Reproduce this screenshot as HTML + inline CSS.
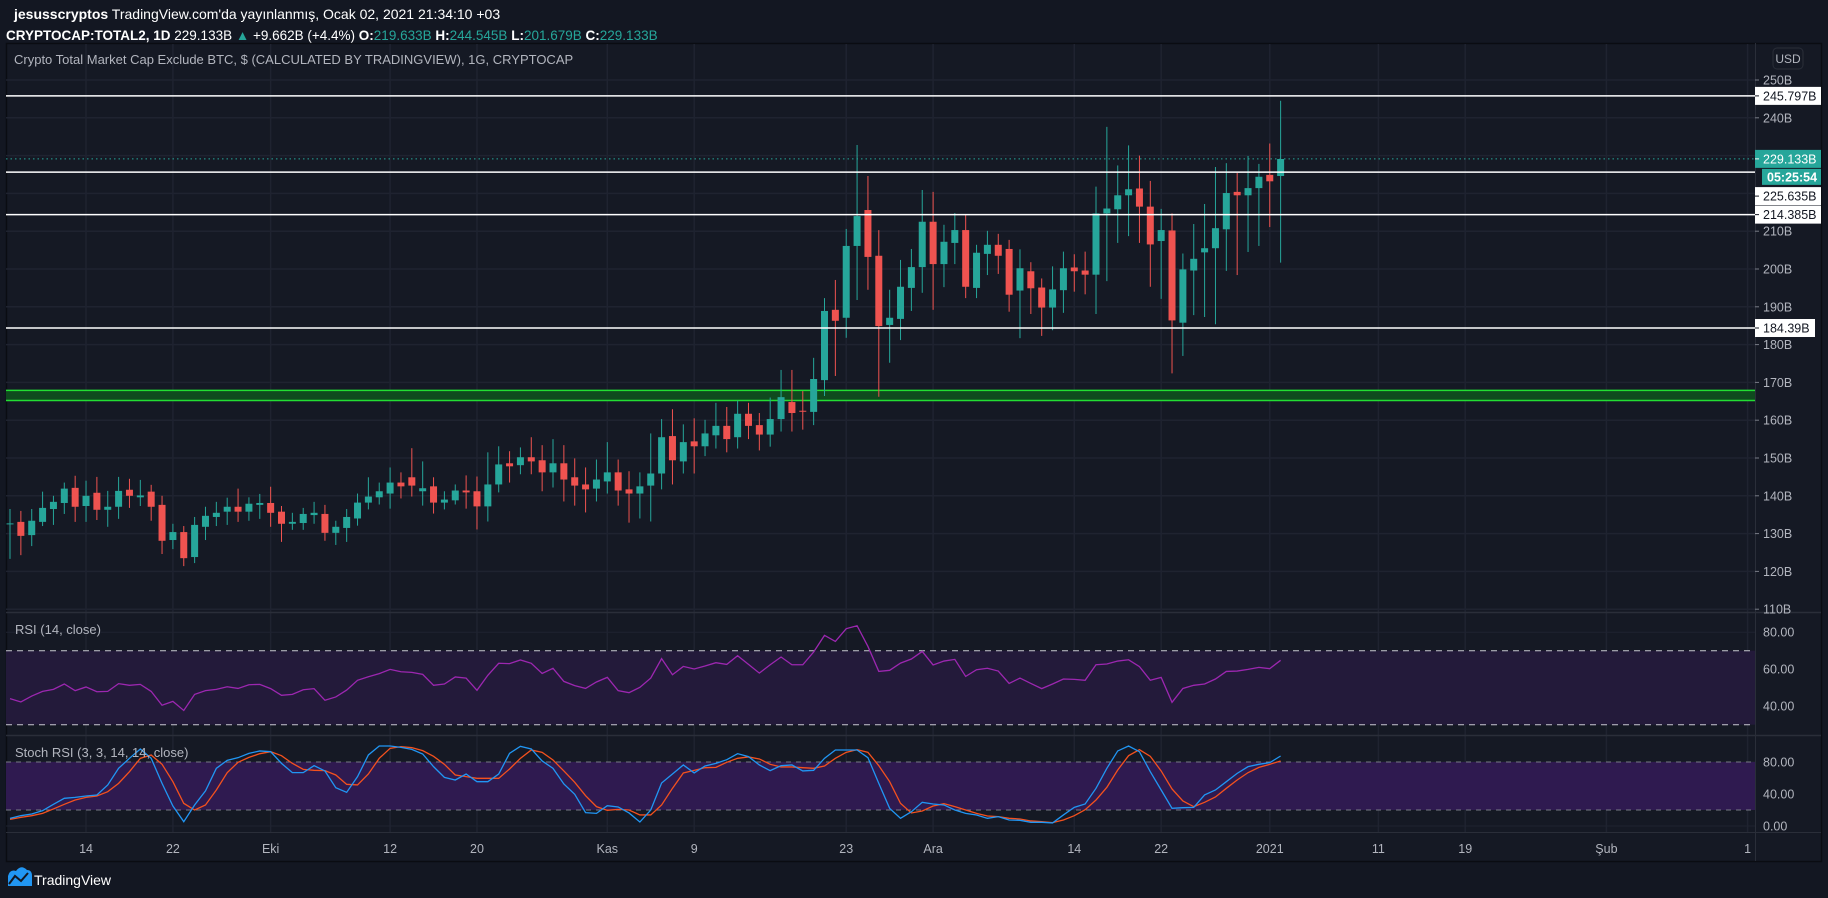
<!DOCTYPE html>
<html><head><meta charset="utf-8">
<style>
html,body{margin:0;padding:0;background:#131722;width:1828px;height:898px;overflow:hidden;font-family:"Liberation Sans","DejaVu Sans",sans-serif;}
svg{position:absolute;left:0;top:0}
</style></head>
<body>
<svg id="chart" width="1828" height="898" viewBox="0 0 1828 898" xmlns="http://www.w3.org/2000/svg">
  <rect x="0" y="0" width="1828" height="898" fill="#131722"/>
  <text x="14" y="19" font-size="14" fill="#ffffff"><tspan font-weight="bold">jesusscryptos</tspan> TradingView.com'da yayınlanmış, Ocak 02, 2021 21:34:10 +03</text>
  <text x="6" y="40" font-size="13.5" fill="#ffffff"><tspan font-weight="bold">CRYPTOCAP:TOTAL2, 1D</tspan> 229.133B <tspan fill="#26a69a">▲</tspan> +9.662B (+4.4%) <tspan font-weight="bold">O:</tspan><tspan fill="#26a69a">219.633B</tspan> <tspan font-weight="bold">H:</tspan><tspan fill="#26a69a">244.545B</tspan> <tspan font-weight="bold">L:</tspan><tspan fill="#26a69a">201.679B</tspan> <tspan font-weight="bold">C:</tspan><tspan fill="#26a69a">229.133B</tspan></text>
  <rect x="6.5" y="43.5" width="1815" height="818" fill="#151924" stroke="#0a0c12" stroke-width="1.5"/>
  <g id="grid"></g>
  <g id="bands"></g>
  <g id="zone"></g>
  <g id="candles"></g>
  <g id="levels"></g>
  <g id="ind"></g>
  <line x1="1755.5" y1="43" x2="1755.5" y2="861" stroke="#2a2e39"/>
  <line x1="6" y1="612.5" x2="1821" y2="612.5" stroke="#2a2e39" stroke-width="1.5"/>
  <line x1="6" y1="735.5" x2="1821" y2="735.5" stroke="#2a2e39" stroke-width="1.5"/>
  <line x1="6" y1="832.5" x2="1821" y2="832.5" stroke="#2a2e39"/>
  <g id="axes"></g>
  <text x="14" y="64" font-size="13" fill="#b2b5be">Crypto Total Market Cap Exclude BTC, $ (CALCULATED BY TRADINGVIEW), 1G, CRYPTOCAP</text>
  <text x="15" y="634" font-size="13" fill="#b2b5be">RSI (14, close)</text>
  <text x="15" y="757" font-size="13" fill="#b2b5be">Stoch RSI (3, 3, 14, 14, close)</text>
  <rect x="1773" y="48" width="30" height="21" rx="4" fill="none" stroke="#2a2e39"/>
  <text x="1788" y="63" font-size="12" fill="#b2b5be" text-anchor="middle">USD</text>
  <g>
    <path d="M8 886 L8 876 Q10 869 16 871 Q21 864 27 870 Q32 870 32 876 L32 886 Z" fill="#2196f3"/>
    <polyline points="9,884 15,876 21,881 28,873" fill="none" stroke="#131722" stroke-width="2"/>
    <text x="34" y="885" font-size="14" fill="#ffffff">TradingView</text>
  </g>
</svg>
<script>
const opens=[132.5,133.1,129.6,133.1,136.5,138.1,142.1,137.3,140.8,136.3,137.1,141.6,139.6,141.1,137.6,128.3,130.4,123.8,131.8,134.4,135.8,137.1,135.8,137.6,138.1,135.8,132.6,132.8,134.9,135.2,130.2,131.5,134.0,138.2,139.6,140.6,143.5,144.9,141.2,142.5,138.2,138.8,141.4,141.2,137.2,143.0,148.6,148.1,150.2,149.4,146.2,148.6,144.9,143.0,141.9,143.8,146.2,141.7,140.6,142.7,145.9,155.8,149.1,154.4,153.1,156.0,158.5,155.5,161.7,158.7,156.2,160.3,164.8,162.5,162.2,170.6,189.2,187.1,206.1,215.6,203.5,185.2,186.8,195.0,200.5,212.5,201.3,206.9,210.3,195.0,204.0,206.4,205.3,194.3,199.4,195.1,189.8,194.4,200.4,199.6,198.5,214.7,215.8,219.5,221.3,216.5,207.4,210.2,185.8,199.6,204.4,205.5,210.5,220.4,219.5,221.4,224.9,224.6];
const highs=[136.5,136.0,136.5,141.1,140.0,143.5,145.3,144.0,145.0,141.3,145.0,144.5,144.2,142.9,140.0,132.6,132.0,134.4,137.1,138.4,139.5,141.9,139.6,140.5,142.4,137.3,135.5,136.8,138.4,137.6,133.4,136.5,140.6,144.9,143.5,147.5,146.2,152.6,149.1,144.9,141.2,143.0,145.4,145.1,151.5,153.1,151.8,152.8,155.5,153.4,155.0,153.4,149.9,147.5,149.6,154.2,149.6,146.5,146.2,156.5,160.3,162.9,158.9,160.5,160.1,164.6,163.5,165.2,164.6,161.9,166.0,173.3,173.3,167.7,176.5,192.3,197.1,210.6,232.8,224.6,210.3,194.5,202.4,205.3,220.9,220.4,211.7,214.8,214.3,206.4,210.1,209.3,207.7,205.2,201.8,197.5,200.7,204.6,203.9,204.6,221.8,237.6,227.4,232.7,230.0,223.3,215.9,214.7,204.1,211.9,217.2,227.0,228.0,225.4,229.9,227.8,233.2,244.5];
const lows=[123.3,124.3,126.7,132.0,132.3,135.2,133.1,133.1,133.6,131.8,133.9,136.8,137.3,133.4,124.6,125.9,121.4,122.2,128.3,132.0,132.3,133.1,133.4,133.9,131.8,127.8,131.0,131.0,132.6,128.1,127.0,127.8,132.1,136.4,137.7,136.6,139.3,139.8,137.4,135.3,136.4,137.7,136.6,131.1,133.2,140.9,143.5,145.7,145.7,141.2,142.2,138.5,137.4,135.6,138.5,140.6,137.4,132.9,134.0,133.2,141.7,143.0,145.9,145.9,150.5,152.5,151.5,152.5,155.0,152.0,153.0,157.0,157.0,157.5,158.7,166.4,171.7,181.8,191.8,194.5,166.2,175.2,181.2,188.9,193.7,189.2,195.2,201.3,192.3,192.3,198.4,198.7,188.7,181.7,188.1,182.3,183.8,188.4,194.0,193.3,188.1,196.8,206.9,208.7,206.9,195.3,192.1,172.4,177.0,187.8,187.3,185.4,199.5,198.4,204.5,206.1,211.1,201.7];
const closes=[132.7,129.4,133.4,136.8,138.4,141.9,137.1,140.0,136.3,137.1,141.3,140.0,140.1,137.1,128.1,130.4,123.5,132.3,134.7,135.5,137.1,135.8,137.9,138.1,135.5,132.6,133.1,135.2,135.5,130.2,131.8,134.4,138.2,139.8,141.2,143.5,142.5,142.7,142.0,138.2,139.0,141.4,140.9,137.2,143.0,148.3,147.8,150.2,149.1,146.2,148.6,144.3,142.7,141.7,144.3,146.2,141.4,140.6,142.5,145.9,155.5,149.4,154.2,153.1,156.5,158.5,155.0,161.7,158.5,156.2,160.3,166.1,161.9,162.3,170.9,188.9,186.3,206.1,214.0,203.2,184.9,187.1,195.3,200.5,212.5,201.3,207.2,210.3,195.3,204.3,206.4,203.5,193.2,200.2,194.9,189.8,194.6,200.2,199.4,198.5,214.7,216.0,219.5,221.1,216.5,206.5,210.3,186.4,199.9,202.7,205.5,210.8,220.1,219.5,221.4,224.4,223.2,229.1];
const rsiValues=[44.1,42.3,45.5,48.0,49.1,52.0,48.4,50.4,47.8,48.0,52.2,51.3,51.8,48.0,40.5,42.6,37.7,46.4,48.4,49.1,50.5,49.6,51.6,51.8,49.5,45.9,46.4,48.9,49.5,43.2,45.0,48.7,54.0,55.9,57.6,59.9,58.6,58.3,57.2,51.3,52.0,55.8,55.2,48.6,56.7,63.2,63.0,65.0,63.2,57.7,60.5,53.4,51.1,49.6,53.1,55.6,48.4,47.3,50.2,55.2,65.7,57.0,61.5,60.1,61.7,63.5,62.6,67.3,62.6,57.9,62.4,66.6,62.4,62.4,69.3,78.3,75.0,81.9,83.5,72.3,58.8,59.4,63.3,65.5,69.6,62.3,64.4,65.3,56.1,59.7,60.5,59.0,52.3,55.2,52.3,49.5,52.0,54.7,54.5,54.0,62.4,62.8,64.4,65.1,61.4,54.0,55.6,42.1,49.6,51.3,52.0,54.7,58.8,59.0,59.9,61.0,60.3,64.8];
const stochK=[9.6,12.9,15,19.2,27.1,34.6,35.8,37.5,38.8,51.3,72.1,84.6,96.3,84.6,53.3,25,5.4,26.3,43.8,72.1,82.1,85.4,90.8,93.8,92.9,78.3,66.7,66.7,75.4,68.8,47.9,42.1,61.7,88.8,100,100,98.3,95.8,90,74.2,60.8,57.5,65,55.4,55.4,65,90.8,99.6,96.3,81.3,72.1,52.5,39.6,16.7,15.8,25.4,23.8,16.3,5,20,53.8,65,76.3,66.3,75,78.3,82.9,90.4,86.7,76.3,69.2,75.4,76.3,68.8,69.6,84.6,95,95,95,85.4,53.3,22.1,9.6,17.9,29.6,27.5,26.3,20,15.8,13.8,9.6,11.7,7.5,7.1,4.6,4.6,3.8,13.8,23.3,27.5,47.1,72.1,93.8,100,92.9,67.9,45,22.1,22.9,23.3,38.8,45,55.4,65.8,74.2,77.1,79.2,87.5];
const stochD=[8.3,10.8,12.9,15.8,21.3,27.1,32.5,35.8,37.5,42.9,53.3,67.9,84.6,88.8,77.1,55.4,28.3,20,26.3,45,66.7,79.6,85.8,90.4,92.9,87.9,78.3,70.8,69.6,69.2,63.8,52.1,51.3,65,84.6,97.1,99.2,97.9,94.2,87.1,77.1,63.8,61.7,59.6,59.6,59.6,71.3,84.6,95,92.1,82.5,68.8,54.6,37.9,24.2,19.6,20.8,20,13.8,13.8,26.3,47.1,66.3,69.6,72.9,73.3,79.6,84.6,86.3,83.8,77.1,73.8,73.8,72.9,72.1,75,84.6,92.1,95.4,92.1,75.4,55.4,28.3,16.3,18.8,25,27.9,24.2,20,15.8,12.5,11.7,9.6,8.8,6.3,5.4,4.2,7.5,12.9,20.4,32.5,48.3,70,87.9,95.4,87.1,68.8,46.3,31.3,24.2,29.6,36.3,47.1,57.5,66.7,73.3,77.1,81.3];
const priceTicks=[250,240,230,220,210,200,190,180,170,160,150,140,130,120,110];
const priceTickLabels=["250B","240B","230B","220B","210B","200B","190B","180B","170B","160B","150B","140B","130B","120B","110B"];
const timeLabels=["14","22","Eki","12","20","Kas","9","23","Ara","14","22","2021","11","19","Şub","1"];
const timeLabelDays=[7,15,24,35,43,55,63,77,85,98,106,116,126,134,147,160];
const levelValues=[245.797,225.635,214.385,184.39];
const levelLabels=["245.797B","225.635B","214.385B","184.39B"];
const greenBand=[165.2,167.9];
const lastPrice=229.133;
const rsiTicks=[80,60,40], stochTicks=[80,40,0];

const NS="http://www.w3.org/2000/svg";
function mk(tag,attrs,parent){const e=document.createElementNS(NS,tag);for(const k in attrs)e.setAttribute(k,attrs[k]);parent.appendChild(e);return e;}
const X=i=>10+10.86*i;
const Y=p=>80+(250-p)*3.78;
const RY=v=>650.7+(70-v)*1.85;
const SY=v=>762+(80-v)*0.8;
const L=6,R=1755;
const grid=document.getElementById('grid'),bands=document.getElementById('bands'),zone=document.getElementById('zone'),cg=document.getElementById('candles'),lv=document.getElementById('levels'),ind=document.getElementById('ind'),ax=document.getElementById('axes');

priceTicks.forEach((p,k)=>{
  const y=Y(p);
  if(y<610){const g=mk('line',{x1:L,x2:R,y1:y,y2:y,stroke:'#1f2330','stroke-width':1.5},grid);
  
  }
  const t=mk('text',{x:1763,y:y+4.5,'font-size':12.5,fill:'#b2b5be'},ax);
  t.textContent=priceTickLabels[k];
  
  
  mk('line',{x1:R,x2:R+4,y1:y,y2:y,stroke:'#787b86'},ax);
});
timeLabelDays.forEach((d,k)=>{
  const x=X(d);
  const g=mk('line',{x1:x,x2:x,y1:44,y2:832,stroke:'#1f2330','stroke-width':1.5},grid);
  
  
  const t=mk('text',{x:x,y:853,'font-size':12.5,fill:'#b2b5be','text-anchor':'middle'},ax);
  t.textContent=timeLabels[k];
  
  
});
[80,60,40].forEach(v=>{mk('line',{x1:L,x2:R,y1:RY(v),y2:RY(v),stroke:'#1f2330'},grid);});
[80,40,0].forEach(v=>{mk('line',{x1:L,x2:R,y1:SY(v),y2:SY(v),stroke:'#1f2330'},grid);});

// indicator bands
let b=mk('rect',{x:L,y:RY(70),width:R-L,height:RY(30)-RY(70),fill:'#231a3a'},bands);


b=mk('rect',{x:L,y:SY(80),width:R-L,height:SY(20)-SY(80),fill:'#2f1a50'},bands);


[70,30].forEach(v=>mk('line',{x1:L,x2:R,y1:RY(v),y2:RY(v),stroke:'#c8c8d0','stroke-dasharray':'6,5'},bands));
[80,20].forEach(v=>mk('line',{x1:L,x2:R,y1:SY(v),y2:SY(v),stroke:'#787b86','stroke-dasharray':'5,5'},bands));
rsiTicks.forEach(v=>{const t=mk('text',{x:1763,y:RY(v)+4.5,'font-size':12.5,fill:'#b2b5be'},ax);t.textContent=v.toFixed(2);
  
  });
stochTicks.forEach(v=>{const t=mk('text',{x:1763,y:SY(v)+4.5,'font-size':12.5,fill:'#b2b5be'},ax);t.textContent=v.toFixed(2);
  
  });

// green support band (behind candles)
const gb=mk('rect',{x:L,y:Y(greenBand[1]),width:R-L,height:Y(greenBand[0])-Y(greenBand[1]),fill:'#0f4a1e'},zone);


greenBand.forEach(v=>{mk('line',{x1:L,x2:R,y1:Y(v),y2:Y(v),stroke:'#22dd33','stroke-width':1.5},zone);});

// candles
opens.forEach((o,i)=>{
  const c=closes[i],h=highs[i],l=lows[i],x=X(i);
  const col=c>=o?'#26a69a':'#ef5350';
  const w=mk('line',{x1:x,x2:x,y1:Y(h),y2:Y(l),stroke:col,'stroke-width':1},cg);
  
  
  const top=Y(Math.max(o,c)),bot=Y(Math.min(o,c));
  const r=mk('rect',{x:x-3.5,y:top,width:7,height:Math.max(1,bot-top),fill:col},cg);
  
  
});

// last price dotted line
mk('line',{x1:L,x2:R,y1:Y(lastPrice),y2:Y(lastPrice),stroke:'#26a69a','stroke-dasharray':'1.5,3'},lv);

// level lines
levelValues.forEach((v,k)=>{
  const y=Y(v);
  const ln=mk('line',{x1:L,x2:R,y1:y,y2:y,stroke:'#ffffff','stroke-width':1.5},lv);
  
  
});

// indicator lines
function poly(vals,fy,col,name){
  const p=mk('polyline',{points:vals.map((v,i)=>X(i)+','+fy(v)).join(' '),fill:'none',stroke:col,'stroke-width':1.3},ind);
  
  
}
poly(rsiValues,RY,'#9c27b0','rsi-line');
poly(stochD,SY,'#f4511e','stoch-d-line');
poly(stochK,SY,'#2196f3','stoch-k-line');

// price labels on axis
function label(y,txt,bg,fg,w,name,h){
  h=h||18;
  const r=mk('rect',{x:R,y:y-h/2,width:w,height:h,fill:bg},ax);
  
  
  mk('line',{x1:R,x2:R+4,y1:y,y2:y,stroke:fg},ax);
  const t=mk('text',{x:R+8,y:y+4.5,'font-size':12.5,fill:fg},ax);
  t.textContent=txt;
}
label(Y(levelValues[0]),levelLabels[0],'#ffffff','#131722',66,'level-label-245');
label(Y(levelValues[2]),levelLabels[2],'#ffffff','#131722',66,'level-label-214');
label(Y(levelValues[3]),levelLabels[3],'#ffffff','#131722',60,'level-label-184');
label(Y(levelValues[1])+24,levelLabels[1],'#ffffff','#131722',66,'level-label-225');
label(Y(lastPrice),'229.133B','#26a69a','#ffffff',66,'last-price-label');
const cd=mk('rect',{x:1762,y:Y(lastPrice)+10,width:59,height:16,fill:'#26a69a'},ax);


const ct=mk('text',{x:1767,y:Y(lastPrice)+22.5,'font-size':12.5,'font-weight':'bold',fill:'#ffffff'},ax);
ct.textContent='05:25:54';
</script>
</body></html>
